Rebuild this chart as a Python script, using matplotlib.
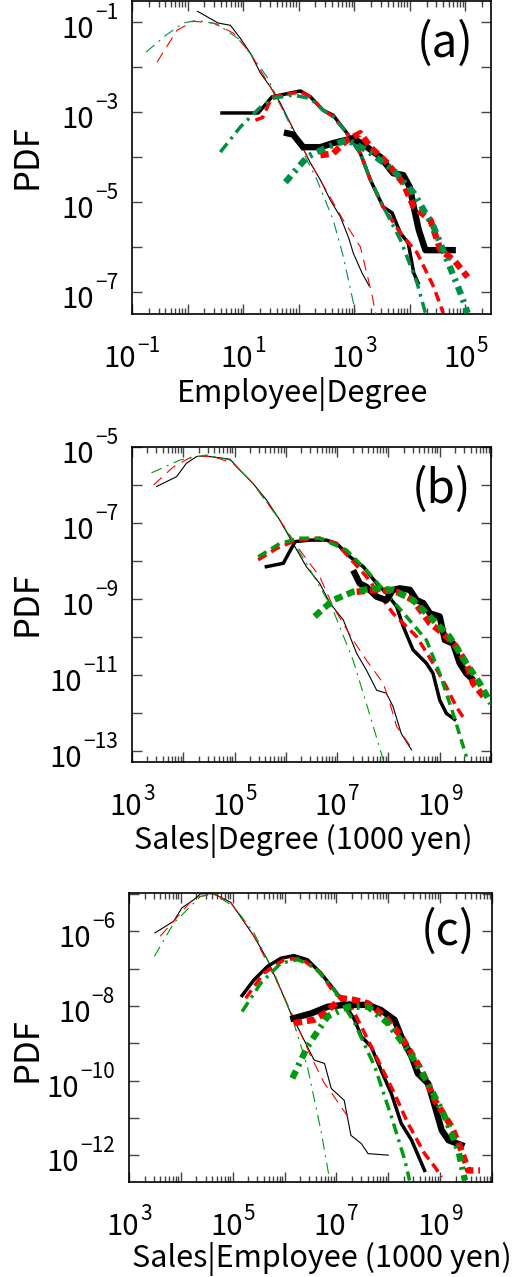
import numpy as np
import matplotlib
matplotlib.use('Agg')
import matplotlib.pyplot as plt
from matplotlib.ticker import FixedLocator, NullFormatter

plt.rcParams['font.family'] = ['Noto Sans CJK JP', 'DejaVu Sans']
plt.rcParams['lines.scale_dashes'] = False

# ---- data as log10 values ----
# panel (a): Employee | Degree
a_thin_k_x = [0.18, 0.55, 0.77, 0.95, 1.13, 1.31, 1.49, 1.67, 1.85, 2.03, 2.21, 2.39, 2.57, 2.75, 2.9, 2.98, 3.14, 3.27]
a_thin_k_y = [-0.76, -1.02, -1.07, -1.36, -1.69, -2.13, -2.44, -2.8, -3.25, -3.69, -4.13, -4.51, -4.96, -5.33, -5.8, -6.13, -6.58, -6.87]
a_thin_r_x = [-0.55, -0.19, 0.10, 0.46, 0.82, 1.13, 1.49, 1.85, 2.21, 2.57, 2.8, 3.11, 3.32, 3.4]
a_thin_r_y = [-1.89, -1.18, -0.98, -1.02, -1.24, -1.69, -2.44, -3.25, -4.13, -4.9, -5.4, -6.0, -7.07, -7.6]
a_thin_g_x = [-0.75, -0.4, -0.08, 0.17, 0.53, 0.95, 1.43, 1.72, 2.03, 2.33, 2.62, 2.8, 2.98, 3.05]
a_thin_g_y = [-1.67, -1.3, -1.02, -0.96, -1.04, -1.4, -2.22, -2.96, -3.78, -4.51, -5.4, -6.2, -7.22, -7.6]

a_mid_k_x = [0.62, 1.27, 1.52, 2.03, 2.21, 2.44, 2.62, 2.87, 3.11, 3.29, 3.52, 3.68, 3.83, 3.97, 4.07, 4.15]
a_mid_k_y = [-3.02, -3.02, -2.66, -2.53, -2.66, -2.96, -3.07, -3.47, -3.92, -4.51, -5.11, -5.24, -5.69, -5.91, -6.58, -6.8]
a_mid_r_x = [1.22, 1.35, 1.52, 2.03, 2.21, 2.44, 2.62, 2.87, 3.11, 3.29, 3.52, 3.83, 4.13, 4.43, 4.6]
a_mid_r_y = [-3.18, -3.12, -2.66, -2.55, -2.66, -2.96, -3.1, -3.47, -3.92, -4.51, -5.11, -5.69, -6.13, -6.89, -7.47]
a_mid_g_x = [0.59, 0.95, 1.31, 1.55, 1.9, 2.21, 2.44, 2.62, 2.87, 3.11, 3.29, 3.52, 3.83, 4.13, 4.28]
a_mid_g_y = [-3.89, -3.33, -2.89, -2.69, -2.62, -2.7, -2.96, -3.1, -3.47, -3.92, -4.5, -5.1, -5.84, -6.8, -7.47]

a_thk_k_x = [1.79, 1.9, 2.08, 2.39, 2.62, 2.98, 3.23, 3.47, 3.7, 3.88, 4.0, 4.07, 4.16, 4.28, 4.77]
a_thk_k_y = [-3.47, -3.5, -3.78, -3.78, -3.69, -3.58, -3.78, -4.0, -4.36, -4.4, -4.67, -5.11, -5.62, -6.07, -6.07]
a_thk_r_x = [2.39, 2.62, 2.87, 3.11, 3.29, 3.59, 3.88, 4.07, 4.37, 4.55, 4.8, 5.04]
a_thk_r_y = [-3.96, -3.92, -3.62, -3.47, -3.78, -4.13, -4.58, -5.11, -5.4, -6.07, -6.3, -6.67]
a_thk_g_x = [1.76, 2.15, 2.51, 2.87, 3.23, 3.7, 4.07, 4.43, 4.67, 4.91, 5.04]
a_thk_g_y = [-4.56, -4.0, -3.78, -3.62, -3.85, -4.29, -4.8, -5.56, -6.29, -7.02, -7.47]

# panel (b): Sales | Degree
b_thin_k_x = [3.48, 3.87, 4.06, 4.26, 4.45, 4.91, 5.1, 5.36, 5.62, 5.88, 6.14, 6.4, 6.66, 6.86, 7.12, 7.38, 7.57, 7.77, 7.96, 8.09, 8.25, 8.45]
b_thin_k_y = [-6.04, -5.78, -5.43, -5.25, -5.24, -5.32, -5.6, -5.96, -6.39, -6.92, -7.54, -8.15, -8.59, -9.11, -9.55, -10.43, -10.87, -11.4, -11.48, -11.83, -12.54, -12.97]
b_thin_r_x = [3.42, 3.81, 4.19, 4.58, 4.97, 5.36, 5.88, 6.27, 6.66, 6.92, 7.31, 7.57, 7.9, 8.03, 8.16, 8.48]
b_thin_r_y = [-6.0, -5.52, -5.24, -5.25, -5.43, -5.96, -6.92, -7.71, -8.41, -9.2, -10.08, -10.61, -11.22, -11.75, -12.36, -12.97]
b_thin_g_x = [3.38, 3.94, 4.45, 4.91, 5.36, 5.88, 6.4, 6.92, 7.31, 7.57, 7.9]
b_thin_g_y = [-5.68, -5.34, -5.21, -5.34, -5.96, -6.92, -8.06, -9.29, -10.61, -11.75, -13.24]

b_mid_k_x = [5.62, 5.95, 6.18, 6.47, 6.79, 6.99, 7.25, 7.51, 7.77, 7.96, 8.16, 8.29, 8.48, 8.74, 8.87, 9.0, 9.13, 9.29]
b_mid_k_y = [-8.15, -8.06, -7.49, -7.45, -7.45, -7.54, -7.89, -8.15, -8.59, -8.85, -9.2, -9.73, -10.34, -10.69, -10.96, -11.66, -12.01, -12.17]
b_mid_r_x = [5.46, 5.82, 6.21, 6.66, 6.99, 7.57, 8.09, 8.55, 8.87, 9.13, 9.32, 9.49]
b_mid_r_y = [-7.97, -7.67, -7.45, -7.4, -7.54, -8.41, -9.38, -9.99, -10.69, -11.31, -11.83, -12.18]
b_mid_g_x = [5.46, 5.88, 6.27, 6.66, 7.18, 7.57, 7.96, 8.35, 8.74, 9.0, 9.26, 9.52]
b_mid_g_y = [-7.89, -7.54, -7.4, -7.4, -7.71, -8.24, -8.85, -9.46, -10.08, -10.96, -12.01, -13.15]

b_thk_k_x = [7.34, 7.44, 7.57, 7.77, 7.96, 8.09, 8.22, 8.42, 8.55, 8.68, 8.81, 9.0, 9.1, 9.26, 9.39, 9.52, 9.62]
b_thk_k_y = [-8.32, -8.59, -8.68, -8.94, -9.03, -8.76, -8.72, -8.76, -9.03, -9.11, -9.38, -9.46, -10.08, -10.17, -10.69, -10.96, -11.09]
b_thk_r_x = [7.38, 7.84, 8.16, 8.48, 8.81, 9.06, 9.32, 9.52, 9.65, 9.91]
b_thk_r_y = [-8.81, -8.76, -8.81, -9.03, -9.64, -9.9, -10.25, -10.69, -11.22, -11.66]
b_thk_g_x = [6.56, 6.92, 7.31, 7.7, 8.09, 8.48, 8.87, 9.19, 9.52, 9.78, 10.0]
b_thk_g_y = [-9.46, -9.03, -8.81, -8.72, -8.76, -9.03, -9.55, -9.99, -10.69, -11.22, -11.75]

# panel (c): Sales | Employee
c_thin_k_x = [3.5, 3.86, 4.02, 4.25, 4.38, 4.63, 4.96, 5.15, 5.41, 5.67, 5.93, 6.12, 6.31, 6.57, 6.77, 6.9, 7.15, 7.28, 7.48, 7.61, 8.0]
c_thin_k_y = [-6.04, -5.73, -5.37, -5.15, -4.99, -4.99, -5.22, -5.6, -6.13, -6.76, -7.57, -8.2, -8.73, -9.45, -9.54, -10.21, -10.53, -11.47, -11.69, -11.96, -12.0]
c_thin_r_x = [3.6, 3.86, 4.25, 4.63, 4.96, 5.41, 5.93, 6.31, 6.51, 6.77, 6.96, 7.22]
c_thin_r_y = [-6.13, -5.73, -5.1, -4.99, -5.22, -6.13, -7.57, -8.73, -9.36, -10.08, -10.44, -10.97]
c_thin_g_x = [3.49, 3.86, 4.38, 4.63, 5.02, 5.41, 5.8, 6.12, 6.44, 6.7, 6.86]
c_thin_g_y = [-6.67, -5.78, -5.06, -5.0, -5.33, -6.04, -7.12, -8.2, -9.63, -11.33, -12.59]

c_mid_k_x = [5.18, 5.41, 5.67, 5.93, 6.18, 6.44, 6.7, 6.96, 7.15, 7.35, 7.48, 7.67, 7.86, 8.06, 8.25, 8.45, 8.7]
c_mid_k_y = [-7.72, -7.3, -6.94, -6.72, -6.65, -6.76, -7.12, -7.57, -7.93, -8.37, -8.82, -9.09, -9.72, -10.35, -11.15, -11.6, -12.41]
c_mid_r_x = [5.25, 5.6, 5.99, 6.31, 6.7, 6.96, 7.22, 7.48, 7.8, 8.12, 8.38, 8.7, 8.9, 9.03]
c_mid_r_y = [-7.79, -7.12, -6.76, -6.72, -7.12, -7.66, -7.84, -8.55, -9.45, -10.35, -11.15, -11.96, -12.32, -12.59]
c_mid_g_x = [5.18, 5.54, 5.93, 6.25, 6.57, 6.96, 7.35, 7.74, 8.06, 8.32, 8.41]
c_mid_g_y = [-8.15, -7.39, -6.85, -6.76, -6.94, -7.57, -8.46, -9.63, -10.97, -12.14, -12.68]

c_thk_k_x = [6.17, 6.51, 6.83, 7.15, 7.61, 7.86, 8.12, 8.25, 8.45, 8.57, 8.77, 8.9, 9.03, 9.16, 9.41]
c_thk_k_y = [-8.33, -8.2, -8.02, -7.97, -7.97, -8.11, -8.37, -8.82, -9.36, -9.81, -10.08, -10.7, -11.33, -11.6, -11.73]
c_thk_r_x = [6.18, 6.57, 6.77, 7.09, 7.35, 7.61, 7.93, 8.25, 8.64, 8.9, 9.22, 9.41, 9.54, 9.77]
c_thk_r_y = [-8.46, -8.37, -8.2, -7.79, -7.84, -7.93, -8.28, -8.82, -9.72, -10.53, -11.24, -11.87, -12.41, -12.41]
c_thk_g_x = [6.15, 6.44, 6.83, 7.22, 7.61, 7.99, 8.38, 8.77, 9.09, 9.35, 9.48]
c_thk_g_y = [-9.94, -9.09, -8.28, -8.02, -8.02, -8.46, -9.18, -10.08, -10.97, -11.87, -12.68]

panel_labels = ['(a)', '(b)', '(c)']
x_labels = ['Employee|Degree', 'Sales|Degree (1000 yen)', 'Sales|Employee (1000 yen)']

RED = '#ff0000'
GREEN_A = '#008f48'
GREEN_BC = '#009a10'

W, H = 524.0, 1277.0
fig = plt.figure(figsize=(W / 100, H / 100), dpi=100)
renderer = fig.canvas.get_renderer()


def make_axes(left, right, top, bottom):
    return fig.add_axes([left / W, 1 - bottom / H, (right - left) / W, (bottom - top) / H])


def pl(ax, lx, ly, color, lw, dashes=None):
    x = 10 ** np.array(lx)
    y = 10 ** np.array(ly)
    if dashes is None:
        ax.plot(x, y, color=color, lw=lw, solid_joinstyle='round', zorder=3)
    else:
        ax.plot(x, y, color=color, lw=lw, dashes=dashes, zorder=3)


def exp_str(e):
    return ('\u2212%d' % -e) if e < 0 else '%d' % e


def tick_labels(ax, xdec, ydec):
    # "10" with a raised exponent, written by hand to get the reference look
    for e in xdec:
        ten = ax.annotate('10', xy=(10.0 ** e, 0), xycoords=('data', 'axes fraction'),
                          xytext=(0, -53), textcoords='offset pixels',
                          ha='right', va='baseline', fontsize=21, annotation_clip=False)
        ex = ax.annotate(exp_str(e), xy=(1, 0), xycoords=(ten, 'axes fraction'),
                         xytext=(1, -38), textcoords='offset pixels',
                         ha='left', va='baseline', fontsize=15, annotation_clip=False)
        w1 = ten.get_window_extent(renderer).width
        w2 = ex.get_window_extent(renderer).width
        ten.xyann = (w1 - (w1 + 1 + w2) / 2.0, -53)
    for e in ydec:
        ex = ax.annotate(exp_str(e), xy=(0, 10.0 ** e), xycoords=('axes fraction', 'data'),
                         xytext=(-14, 3), textcoords='offset pixels',
                         ha='right', va='baseline', fontsize=15, annotation_clip=False)
        ax.annotate('10', xy=(0, 10.0 ** e), xycoords=(ex, 'data'),
                    xytext=(-1, -16), textcoords='offset pixels',
                    ha='right', va='baseline', fontsize=21, annotation_clip=False)


def style_axes(ax, xlo, xhi, ylo, yhi, ypar):
    ax.set_xscale('log')
    ax.set_yscale('log')
    ax.set_xlim(10 ** xlo, 10 ** xhi)
    ax.set_ylim(10 ** ylo, 10 ** yhi)
    xdec = np.arange(int(np.floor(xlo)), int(np.ceil(xhi)) + 1)
    ydec = np.arange(int(np.floor(ylo)), int(np.ceil(yhi)) + 1)
    ax.xaxis.set_major_locator(FixedLocator(10.0 ** xdec))
    ax.xaxis.set_minor_locator(FixedLocator([m * 10.0 ** d for d in xdec for m in range(2, 10)]))
    ax.yaxis.set_major_locator(FixedLocator(10.0 ** ydec))
    ax.yaxis.set_minor_locator(FixedLocator([]))
    ax.xaxis.set_minor_formatter(NullFormatter())
    ax.tick_params(which='both', direction='in', top=True, right=True,
                   labelbottom=False, labelleft=False, width=1.0, color='#444444')
    ax.tick_params(which='major', length=7)
    ax.tick_params(which='minor', length=4)
    for s in ax.spines.values():
        s.set_linewidth(1.2)
    xl = [e for e in xdec if xlo - 0.01 <= e <= xhi + 0.01 and e % 2 == 1]
    yl = [e for e in ydec if ylo - 0.01 <= e <= yhi + 0.01 and e % 2 == ypar]
    tick_labels(ax, xl, yl)


def fig_text(px, py, s, **kw):
    fig.text(px / W, 1 - py / H, s, **kw)


THIN, MID, THICK = 0.8, 2.5, 4.6

# (a)
ax = make_axes(132, 491, 1, 314)
pl(ax, a_thin_k_x, a_thin_k_y, 'black', THIN)
pl(ax, a_thin_r_x, a_thin_r_y, RED, THIN, (8, 5))
pl(ax, a_thin_g_x, a_thin_g_y, GREEN_A, THIN, (8, 4, 1.5, 4))
pl(ax, a_mid_k_x, a_mid_k_y, 'black', MID)
pl(ax, a_mid_r_x, a_mid_r_y, RED, MID, (7, 4))
pl(ax, a_mid_g_x, a_mid_g_y, GREEN_A, MID, (8, 4, 2, 4))
pl(ax, a_thk_k_x, a_thk_k_y, 'black', THICK)
pl(ax, a_thk_r_x, a_thk_r_y, RED, THICK, (6, 3.5))
pl(ax, a_thk_g_x, a_thk_g_y, GREEN_A, THICK, (6, 4, 2, 4))
style_axes(ax, -1, 5.46, -7.49, -0.53, 1)
fig_text(303, 402, x_labels[0], fontsize=22, ha='center', va='baseline')
fig_text(27, 157, 'PDF', fontsize=25, rotation=90, ha='center', va='center')
fig_text(445, 44, panel_labels[0], fontsize=33, ha='center', va='center')

# (b)
ax = make_axes(132, 491, 447, 762)
pl(ax, b_thin_k_x, b_thin_k_y, 'black', THIN)
pl(ax, b_thin_r_x, b_thin_r_y, RED, THIN, (8, 5))
pl(ax, b_thin_g_x, b_thin_g_y, GREEN_BC, THIN, (8, 4, 1.5, 4))
pl(ax, b_mid_k_x, b_mid_k_y, 'black', MID)
pl(ax, b_mid_r_x, b_mid_r_y, RED, MID, (7, 4))
pl(ax, b_mid_g_x, b_mid_g_y, GREEN_BC, MID, (7, 4))
pl(ax, b_thk_k_x, b_thk_k_y, 'black', THICK)
pl(ax, b_thk_r_x, b_thk_r_y, RED, THICK, (6, 3.5))
pl(ax, b_thk_g_x, b_thk_g_y, GREEN_BC, THICK, (6, 3.5))
style_axes(ax, 3, 10, -13.29, -5, 1)
fig_text(303, 849, x_labels[1], fontsize=22, ha='center', va='baseline')
fig_text(27, 604, 'PDF', fontsize=25, rotation=90, ha='center', va='center')
fig_text(442, 490, panel_labels[1], fontsize=33, ha='center', va='center')

# (c)
ax = make_axes(129, 492, 893, 1182)
pl(ax, c_thin_k_x, c_thin_k_y, 'black', THIN)
pl(ax, c_thin_r_x, c_thin_r_y, RED, THIN, (8, 5))
pl(ax, c_thin_g_x, c_thin_g_y, GREEN_BC, THIN, (8, 4, 1.5, 4))
pl(ax, c_mid_k_x, c_mid_k_y, 'black', MID)
pl(ax, c_mid_r_x, c_mid_r_y, RED, MID, (7, 4))
pl(ax, c_mid_g_x, c_mid_g_y, GREEN_BC, MID, (8, 4, 2, 4))
pl(ax, c_thk_k_x, c_thk_k_y, 'black', THICK)
pl(ax, c_thk_r_x, c_thk_r_y, RED, THICK, (6, 3.5))
pl(ax, c_thk_g_x, c_thk_g_y, GREEN_BC, THICK, (6, 4, 2, 4))
style_axes(ax, 3, 10, -12.72, -4.97, 0)
fig_text(322, 1267, x_labels[2], fontsize=22, ha='center', va='baseline')
fig_text(27, 1050, 'PDF', fontsize=25, rotation=90, ha='center', va='center')
fig_text(448, 932, panel_labels[2], fontsize=33, ha='center', va='center')

fig.savefig('out.png', dpi=100)
